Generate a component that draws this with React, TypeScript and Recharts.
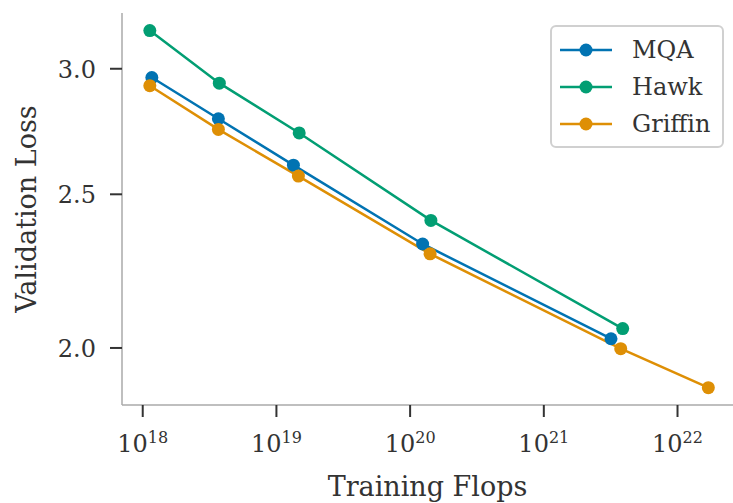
import { LineChart, Line, XAxis, YAxis, Legend, Label } from "recharts";

const FONT = "'DejaVu Serif', serif";
const TEXT = "#333";

const mqaFlops = [1.17e18, 3.68e18, 1.34e19, 1.24e20, 3.18e21];
const mqaLoss = [2.962, 2.79, 2.608, 2.326, 2.027];
const hawkFlops = [1.13e18, 3.74e18, 1.48e19, 1.43e20, 3.89e21];
const hawkLoss = [3.171, 2.938, 2.733, 2.407, 2.057];
const griffinFlops = [1.13e18, 3.68e18, 1.46e19, 1.41e20, 3.76e21, 1.7e22];
const griffinLoss = [2.927, 2.747, 2.567, 2.293, 1.998, 1.888];

const xTicks = [1e18, 1e19, 1e20, 1e21, 1e22];
const yTicks = [2.0, 2.5, 3.0];

const zip = (xs: number[], ys: number[]) => xs.map((flops, i) => ({ flops, loss: ys[i] }));

const series = [
  { name: "MQA", color: "#0173b2", data: zip(mqaFlops, mqaLoss) },
  { name: "Hawk", color: "#029e73", data: zip(hawkFlops, hawkLoss) },
  { name: "Griffin", color: "#de8f05", data: zip(griffinFlops, griffinLoss) },
];

function XTick({ x, y, payload }: any) {
  const exp = Math.round(Math.log10(payload.value));
  return (
    <g>
      <line x1={x} x2={x} y1={y} y2={y + 12} stroke="#333" strokeWidth={2} />
      <text x={x} y={y + 47} textAnchor="middle" fill={TEXT} fontFamily={FONT} fontSize={24}>
        <tspan>10</tspan>
        <tspan dy={-9} fontSize={16}>{exp}</tspan>
      </text>
    </g>
  );
}

function YTick({ x, y, payload }: any) {
  return (
    <g>
      <line x1={x - 12} x2={x} y1={y} y2={y} stroke="#333" strokeWidth={2} />
      <text x={x - 26} y={y + 9} textAnchor="end" fill={TEXT} fontFamily={FONT} fontSize={24}>
        {payload.value.toFixed(1)}
      </text>
    </g>
  );
}

function LegendBox() {
  return (
    <div
      style={{
        width: 170,
        border: "2px solid #d0d0d0",
        borderRadius: 6,
        background: "#fff",
        padding: "4px 0",
        fontFamily: FONT,
        fontSize: 24,
        color: TEXT,
      }}
    >
      {series.map((s) => (
        <div key={s.name} style={{ display: "flex", alignItems: "center", height: 37 }}>
          <svg width={70} height={20} style={{ marginLeft: 8 }}>
            <line x1={0} x2={52} y1={10} y2={10} stroke={s.color} strokeWidth={2.5} />
            <circle cx={26} cy={10} r={6.5} fill={s.color} />
          </svg>
          <span style={{ marginLeft: 2 }}>{s.name}</span>
        </div>
      ))}
    </div>
  );
}

export default function App() {
  return (
    <div style={{ position: "absolute", left: 0, top: 0, background: "#fff" }}>
      <LineChart width={733} height={503} margin={{ top: 13, right: 0, bottom: 0, left: 0 }}>
        <XAxis
          dataKey="flops"
          type="number"
          scale="log"
          domain={[Math.pow(10, 17.845), Math.pow(10, 22.415)]}
          ticks={xTicks}
          interval={0}
          allowDataOverflow
          height={98}
          tickSize={0}
          tickMargin={0}
          tickLine={false}
          tick={<XTick />}
          axisLine={{ stroke: "#aaa", strokeWidth: 1.5 }}
        >
          <Label
            content={({ viewBox }: any) => (
              <text
                x={viewBox.x + viewBox.width / 2}
                y={viewBox.y + 91}
                textAnchor="middle"
                fill={TEXT}
                fontFamily={FONT}
                fontSize={27}
              >
                Training Flops
              </text>
            )}
          />
        </XAxis>
        <YAxis
          type="number"
          scale="log"
          domain={[1.841, 3.253]}
          ticks={yTicks}
          interval={0}
          allowDataOverflow
          width={122}
          tickSize={0}
          tickMargin={0}
          tickLine={false}
          tick={<YTick />}
          axisLine={{ stroke: "#aaa", strokeWidth: 1.5 }}
        >
          <Label
            content={({ viewBox }: any) => {
              const cx = 26;
              const cy = viewBox.y + viewBox.height / 2;
              return (
                <text
                  x={cx}
                  y={cy}
                  transform={`rotate(-90 ${cx} ${cy})`}
                  textAnchor="middle"
                  dominantBaseline="central"
                  fill={TEXT}
                  fontFamily={FONT}
                  fontSize={27}
                >
                  Validation Loss
                </text>
              );
            }}
          />
        </YAxis>
        <Legend
          layout="vertical"
          align="center"
          verticalAlign="middle"
          content={<LegendBox />}
          wrapperStyle={{ left: 550, top: 25, width: 174 }}
        />
        {series.map((s) => (
          <Line
            key={s.name}
            name={s.name}
            data={s.data}
            dataKey="loss"
            stroke={s.color}
            strokeWidth={2.5}
            dot={{ r: 6.5, fill: s.color, stroke: s.color, strokeWidth: 0 }}
            activeDot={false}
            isAnimationActive={false}
          />
        ))}
      </LineChart>
    </div>
  );
}
